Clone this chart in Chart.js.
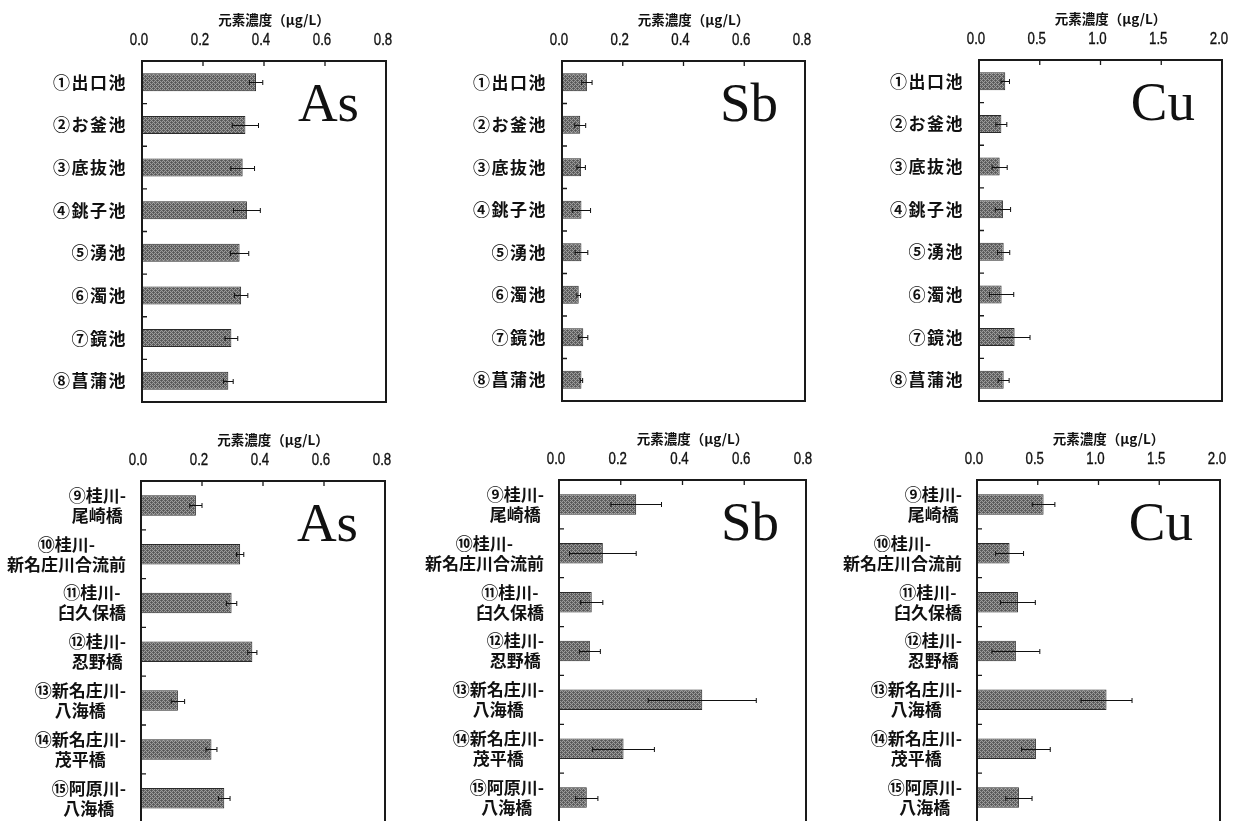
<!DOCTYPE html>
<html lang="ja">
<head>
<meta charset="utf-8">
<title>元素濃度</title>
<script src="https://cdn.jsdelivr.net/npm/chart.js@4/dist/chart.umd.min.js"></script>
<style>
  html, body { margin: 0; padding: 0; background: #fff; }
  body { width: 1239px; height: 821px; overflow: hidden; position: relative; }
  canvas { position: absolute; }
</style>
</head>
<body>
<canvas id="p1"></canvas>
<canvas id="p2"></canvas>
<canvas id="p3"></canvas>
<canvas id="p4"></canvas>
<canvas id="p5"></canvas>
<canvas id="p6"></canvas>
<script>
// ---- data ----
const AXIS_TITLE = '元素濃度（μg/L）';

const PONDS = ['①出口池', '②お釜池', '③底抜池', '④銚子池', '⑤湧池', '⑥濁池', '⑦鏡池', '⑧菖蒲池'];
const RIVERS = [
  ['⑨桂川-', '尾崎橋'],
  ['⑩桂川-', '新名庄川合流前'],
  ['⑪桂川-', '臼久保橋'],
  ['⑫桂川-', '忍野橋'],
  ['⑬新名庄川-', '八海橋'],
  ['⑭新名庄川-', '茂平橋'],
  ['⑮阿原川-', '八海橋']
];

// mean concentrations and standard deviations (μg/L)
const AS_PONDS    = [0.374, 0.339, 0.330, 0.344, 0.320, 0.325, 0.293, 0.283];
const AS_PONDS_SD = [0.022, 0.043, 0.039, 0.044, 0.030, 0.022, 0.021, 0.016];
const SB_PONDS    = [0.082, 0.060, 0.063, 0.064, 0.064, 0.055, 0.070, 0.064];
const SB_PONDS_SD = [0.017, 0.018, 0.014, 0.030, 0.021, 0.006, 0.015, 0.004];
const CU_PONDS    = [0.216, 0.184, 0.170, 0.197, 0.203, 0.186, 0.293, 0.203];
const CU_PONDS_SD = [0.035, 0.045, 0.062, 0.063, 0.050, 0.100, 0.127, 0.045];

const AS_RIVERS    = [0.180, 0.325, 0.297, 0.365, 0.121, 0.231, 0.273];
const AS_RIVERS_SD = [0.020, 0.012, 0.017, 0.015, 0.022, 0.018, 0.019];
const SB_RIVERS    = [0.250, 0.142, 0.106, 0.100, 0.464, 0.209, 0.090];
const SB_RIVERS_SD = [0.082, 0.108, 0.036, 0.034, 0.175, 0.100, 0.036];
const CU_RIVERS    = [0.548, 0.268, 0.337, 0.320, 1.066, 0.485, 0.345];
const CU_RIVERS_SD = [0.093, 0.115, 0.143, 0.197, 0.210, 0.118, 0.108];

// axis ranges
const AXIS_MAX_LOW = 0.8, AXIS_STEP_LOW = 0.2;   // As, Sb
const AXIS_MAX_CU  = 2.0, AXIS_STEP_CU  = 0.5;   // Cu

// ---- layout ----
const NUM_FONT = '"Liberation Sans", Arial, sans-serif';
const JP_FONT  = '"Noto Sans CJK JP", "Noto Sans CJK SC", sans-serif';
const SERIF    = '"Liberation Serif", "DejaVu Serif", serif';

const PANELS = [
  { id: 'p1', element: 'As', sites: PONDS,  values: AS_PONDS,  errors: AS_PONDS_SD,  max: AXIS_MAX_LOW, step: AXIS_STEP_LOW,
    box: { left: 0,   top: 0,   w: 410, h: 412 }, plot: { l: 142, r: 386, t: 61, b: 402 }, spacing: 1.5 },
  { id: 'p2', element: 'Sb', sites: PONDS,  values: SB_PONDS,  errors: SB_PONDS_SD,  max: AXIS_MAX_LOW, step: AXIS_STEP_LOW,
    box: { left: 420, top: 0,   w: 410, h: 412 }, plot: { l: 562, r: 805, t: 61, b: 401 }, spacing: 1.5 },
  { id: 'p3', element: 'Cu', sites: PONDS,  values: CU_PONDS,  errors: CU_PONDS_SD,  max: AXIS_MAX_CU,  step: AXIS_STEP_CU,
    box: { left: 830, top: 0,   w: 409, h: 412 }, plot: { l: 979, r: 1222, t: 60, b: 401 }, spacing: 1.5 },
  { id: 'p4', element: 'As', sites: RIVERS, values: AS_RIVERS, errors: AS_RIVERS_SD, max: AXIS_MAX_LOW, step: AXIS_STEP_LOW,
    box: { left: 0,   top: 420, w: 410, h: 412 }, plot: { l: 141, r: 385, t: 481, b: 822.6 }, spacing: 0 },
  { id: 'p5', element: 'Sb', sites: RIVERS, values: SB_RIVERS, errors: SB_RIVERS_SD, max: AXIS_MAX_LOW, step: AXIS_STEP_LOW,
    box: { left: 420, top: 420, w: 410, h: 412 }, plot: { l: 559, r: 806, t: 480, b: 822 }, spacing: 0 },
  { id: 'p6', element: 'Cu', sites: RIVERS, values: CU_RIVERS, errors: CU_RIVERS_SD, max: AXIS_MAX_CU,  step: AXIS_STEP_CU,
    box: { left: 830, top: 420, w: 409, h: 412 }, plot: { l: 977, r: 1220, t: 480, b: 822 }, spacing: 0 }
];

// stippled grey fill used for the bars
function stipple(ctx) {
  const c = document.createElement('canvas');
  c.width = 4; c.height = 4;
  const g = c.getContext('2d');
  g.fillStyle = '#9c9c9c';
  g.fillRect(0, 0, 4, 4);
  g.fillStyle = '#626262';
  for (let y = 0; y < 4; y++) {
    for (let x = 0; x < 4; x++) {
      if ((x + y) % 2 === 0) g.fillRect(x, y, 1, 1);
    }
  }
  g.fillStyle = '#555';
  g.fillRect(1, 0, 1, 1);
  g.fillRect(3, 2, 1, 1);
  return ctx.createPattern(c, 'repeat');
}

// frame, inner ticks, error bars and text drawn on top of each panel
const panelDecor = {
  id: 'panelDecor',
  afterDraw(chart, args, opts) {
    const p = opts.panel;
    const ctx = chart.ctx;
    const a = chart.chartArea;
    const xs = chart.scales.x, ys = chart.scales.y;
    const n = p.sites.length;
    const band = (a.bottom - a.top) / n;
    ctx.save();

    // error bars
    ctx.strokeStyle = '#111';
    ctx.lineWidth = 1;
    p.values.forEach((v, i) => {
      const e = p.errors[i];
      const y = Math.round(ys.getPixelForValue(i)) + 0.5;
      const x1 = xs.getPixelForValue(Math.max(0, v - e));
      const x2 = xs.getPixelForValue(v + e);
      ctx.beginPath();
      ctx.moveTo(x1, y); ctx.lineTo(x2, y);
      ctx.moveTo(x1, y - 2.5); ctx.lineTo(x1, y + 2.5);
      ctx.moveTo(x2, y - 2.5); ctx.lineTo(x2, y + 2.5);
      ctx.stroke();
    });

    // frame
    ctx.strokeStyle = '#1a1a1a';
    ctx.lineWidth = 2;
    ctx.strokeRect(a.left, a.top, a.right - a.left, a.bottom - a.top);

    // inner ticks: value ticks on top, category boundaries on the left
    ctx.lineWidth = 1.3;
    ctx.beginPath();
    xs.ticks.forEach(t => {
      if (t.value > xs.min + 1e-9 && t.value < xs.max - 1e-9) {
        const x = xs.getPixelForValue(t.value);
        ctx.moveTo(x, a.top); ctx.lineTo(x, a.top + 5);
      }
    });
    for (let i = 1; i < n; i++) {
      const y = a.top + i * band;
      ctx.moveTo(a.left, y); ctx.lineTo(a.left + 5, y);
    }
    ctx.stroke();

    // value tick labels, set in a condensed face
    ctx.fillStyle = '#111';
    ctx.strokeStyle = '#111';
    ctx.lineWidth = 0.35;
    ctx.font = '17px ' + NUM_FONT;
    ctx.textAlign = 'center';
    ctx.textBaseline = 'middle';
    xs.ticks.forEach(t => {
      const x = xs.getPixelForValue(t.value) - 3;
      const s = Number(t.value).toFixed(1);
      ctx.save();
      ctx.translate(x, a.top - 21);
      ctx.scale(0.78, 1);
      ctx.fillText(s, 0, 0);
      ctx.strokeText(s, 0, 0);
      ctx.restore();
    });

    // axis title
    ctx.font = 'bold 13.5px ' + JP_FONT;
    ctx.textAlign = 'center';
    ctx.textBaseline = 'middle';
    ctx.fillText(AXIS_TITLE, (a.left + a.right) / 2 + 10, a.top - 41);

    // site labels: each block right-aligned, its lines centred within the block
    ctx.font = 'bold 17px ' + JP_FONT;
    if ('letterSpacing' in ctx) ctx.letterSpacing = p.spacing + 'px';
    ctx.textAlign = 'center';
    ctx.textBaseline = 'middle';
    const lineH = 20;
    p.sites.forEach((lab, i) => {
      const lines = Array.isArray(lab) ? lab : [lab];
      const yc = ys.getPixelForValue(i);
      const w = Math.max(...lines.map(s => ctx.measureText(s).width));
      const cx = a.left - 15 - w / 2;
      lines.forEach((s, k) => {
        ctx.fillText(s, cx, yc + (k - (lines.length - 1) / 2) * lineH);
      });
    });
    if ('letterSpacing' in ctx) ctx.letterSpacing = '0px';

    // element symbol
    ctx.font = '55px ' + SERIF;
    ctx.textAlign = 'right';
    ctx.textBaseline = 'alphabetic';
    ctx.fillStyle = '#111';
    ctx.fillText(p.element, a.right - 27, a.top + 60);

    ctx.restore();
  }
};

PANELS.forEach(p => {
  const cv = document.getElementById(p.id);
  cv.width = p.box.w; cv.height = p.box.h;
  cv.style.left = p.box.left + 'px';
  cv.style.top = p.box.top + 'px';
  cv.style.width = p.box.w + 'px';
  cv.style.height = p.box.h + 'px';
  const ctx = cv.getContext('2d');

  new Chart(cv, {
    type: 'bar',
    data: {
      labels: p.sites,
      datasets: [{
        data: p.values,
        backgroundColor: stipple(ctx),
        borderColor: '#2a2a2a',
        borderWidth: 1,
        borderSkipped: false,
        barPercentage: 0.42,
        categoryPercentage: 1
      }]
    },
    options: {
      indexAxis: 'y',
      responsive: false,
      animation: false,
      devicePixelRatio: 1,
      layout: {
        padding: {
          left: 0, top: 0,
          right: p.box.left + p.box.w - p.plot.r,
          bottom: p.box.top + p.box.h - p.plot.b
        }
      },
      plugins: {
        legend: { display: false },
        tooltip: { enabled: false },
        panelDecor: { panel: p }
      },
      scales: {
        x: {
          type: 'linear',
          position: 'top',
          min: 0,
          max: p.max,
          ticks: { stepSize: p.step, display: false },
          grid: { display: false, drawTicks: false },
          border: { display: false },
          afterFit: s => { s.height = p.plot.t - p.box.top; }
        },
        y: {
          type: 'category',
          ticks: { display: false },
          grid: { display: false, drawTicks: false },
          border: { display: false },
          afterFit: s => { s.width = p.plot.l - p.box.left; }
        }
      }
    },
    plugins: [panelDecor]
  });
});
</script>
</body>
</html>
